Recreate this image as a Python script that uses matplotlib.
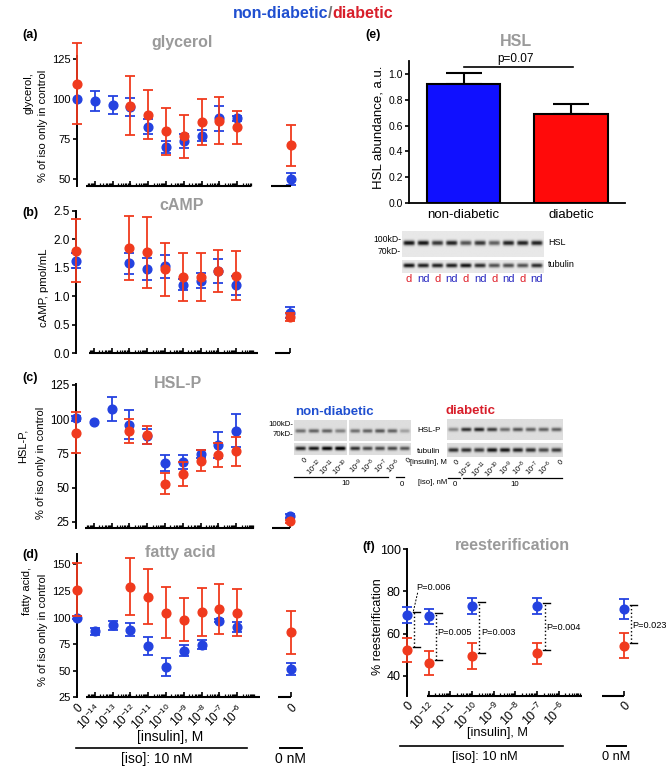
import numpy as np
import matplotlib
matplotlib.use('Agg')
import matplotlib.pyplot as plt
from matplotlib.lines import Line2D

plt.rcParams['font.family'] = ['Liberation Sans', 'DejaVu Sans']
plt.rcParams['mathtext.fontset'] = 'custom'
plt.rcParams['mathtext.rm'] = 'Liberation Sans'
plt.rcParams['mathtext.it'] = 'Liberation Sans:italic'
plt.rcParams['mathtext.bf'] = 'Liberation Sans:bold'
plt.rcParams['mathtext.default'] = 'regular'

NaN = np.nan

# ---------------- data ----------------
insulin_labels = ['0', '10$^{-14}$', '10$^{-13}$', '10$^{-12}$', '10$^{-11}$',
                  '10$^{-10}$', '10$^{-9}$', '10$^{-8}$', '10$^{-7}$', '10$^{-6}$']
noiso_label = '0'

glycerol_nd = [100, 99, 96.2, 95, 82.5, 70, 73.7, 77, 88, 88]
glycerol_nd_err = [0, 6.2, 5.7, 5.7, 4.7, 3.6, 4.2, 3.4, 7.9, 1.5]
glycerol_d = [109.6, NaN, NaN, 95.8, 90.2, 79.7, 76.6, 85.6, 86.4, 82.3]
glycerol_d_err = [25.2, NaN, NaN, 18.4, 15.5, 14.5, 13.5, 14.3, 14.7, 10.5]
glycerol_noiso_nd, glycerol_noiso_nd_err = 50, 3.5
glycerol_noiso_d, glycerol_noiso_d_err = 71, 12.6

camp_nd = [1.62, NaN, NaN, 1.58, 1.47, 1.52, 1.20, 1.27, 1.44, 1.19]
camp_nd_err = [0.13, NaN, NaN, 0.185, 0.195, 0.2, 0.095, 0.13, 0.205, 0.17]
camp_d = [1.80, NaN, NaN, 1.85, 1.77, 1.47, 1.33, 1.34, 1.44, 1.36]
camp_d_err = [0.56, NaN, NaN, 0.565, 0.62, 0.46, 0.42, 0.425, 0.375, 0.43]
camp_noiso_nd, camp_noiso_nd_err = 0.71, 0.1
camp_noiso_d, camp_noiso_d_err = 0.64, 0.07

hslp_nd = [100.7, 98.3, 107.5, 96, 87.4, 68, 69, 74.5, 81.3, 91.7]
hslp_nd_err = [2, 0, 8.5, 10.5, 5.5, 6, 5, 2.7, 9.5, 12.2]
hslp_d = [90.3, NaN, NaN, 91.5, 88.6, 53, 60, 69.7, 74, 76.5]
hslp_d_err = [15, NaN, NaN, 9, 6.8, 7.6, 9, 7.8, 8.7, 10.7]
hslp_noiso_nd, hslp_noiso_nd_err = 29.6, 1.5
hslp_noiso_d, hslp_noiso_d_err = 25.5, 1.0

fa_nd = [100, 87, 92.8, 88.4, 73.4, 53.3, 68.7, 74.3, 96.9, 91.5]
fa_nd_err = [1, 3.5, 4.3, 6, 8.5, 8.2, 5.2, 4.3, 1.5, 4.7]
fa_d = [126, NaN, NaN, 129, 119.7, 104.7, 97.8, 105.6, 108, 104.7]
fa_d_err = [25, NaN, NaN, 26.6, 25.9, 24, 20.2, 22.6, 23.2, 22.5]
fa_noiso_nd, fa_noiso_nd_err = 51.7, 5.7
fa_noiso_d, fa_noiso_d_err = 86.2, 20.4

hsl_groups = ['non-diabetic', 'diabetic']
hsl_abundance = [0.918, 0.692]
hsl_abundance_err = [0.087, 0.077]
hsl_p_text = 'p=0.07'

rees_labels = ['0', '10$^{-12}$', '10$^{-11}$', '10$^{-10}$', '10$^{-9}$',
               '10$^{-8}$', '10$^{-7}$', '10$^{-6}$']
rees_measured = ['0', '10$^{-12}$', '10$^{-10}$', '10$^{-7}$']
rees_nd = [68.7, 68.2, 73.2, 73.0]
rees_nd_err = [3.7, 3.6, 3.7, 3.9]
rees_d = [52.1, 46.1, 49.4, 50.6]
rees_d_err = [5.6, 5.6, 6.2, 5.1]
rees_noiso_nd, rees_noiso_nd_err = 71.6, 4.7
rees_noiso_d, rees_noiso_d_err = 54.2, 5.9
rees_pvals = ['P=0.006', 'P=0.005', 'P=0.003', 'P=0.004', 'P=0.023']

# blot band intensities (0 = none, 1 = black)
blot_hsl_lanes = ['d', 'nd', 'd', 'nd', 'd', 'nd', 'd', 'nd', 'd', 'nd']
blot_hsl = [0.85, 0.85, 0.72, 0.8, 0.6, 0.72, 0.55, 0.8, 0.8, 0.8]
blot_hsl_tub = [0.85, 0.8, 0.8, 0.8, 0.85, 0.75, 0.6, 0.62, 0.6, 0.75]
blot_lane_insulin = ['0', '10$^{-12}$', '10$^{-11}$', '10$^{-10}$', '10$^{-9}$',
                     '10$^{-8}$', '10$^{-7}$', '10$^{-6}$', '0']
blot_nd_hslp = [0.45, 0.5, 0.5, 0.38, 0.45, 0.5, 0.55, 0.5, 0.25]
blot_nd_tub = [0.75, 0.8, 0.9, 0.95, 0.7, 0.6, 0.6, 0.6, 0.55]
blot_d_hslp = [0.35, 0.7, 0.75, 0.65, 0.45, 0.55, 0.5, 0.5, 0.5]
blot_d_tub = [0.7, 0.7, 0.65, 0.8, 0.8, 0.75, 0.7, 0.6, 0.65]

# ---------------- styles ----------------
BLUE = '#2442e0'
RED = '#f03a1e'
GRAY = '#9a9a9a'
TBLUE = '#1f4fd0'
TRED = '#d81e2a'

W, H = 668, 767
fig = plt.figure(figsize=(W / 100, H / 100), dpi=100)


def ax_px(x0, y0, x1, y1):
    return fig.add_axes([x0 / W, 1 - y1 / H, (x1 - x0) / W, (y1 - y0) / H])


def txt(x, y, s, **kw):
    return fig.text(x / W, 1 - y / H, s, **kw)


def hline(x0, x1, y, lw=1.1, **kw):
    fig.add_artist(Line2D([x0 / W, x1 / W], [1 - y / H, 1 - y / H],
                          transform=fig.transFigure, color='k', lw=lw, **kw))


def draw_series(ax, pos, mean, err, color, z):
    pos = np.asarray(pos, float)
    mean = np.asarray(mean, float)
    err = np.asarray(err, float)
    ok = np.isfinite(mean)
    ax.plot(pos[ok], mean[ok], 'o', color=color, ms=6.3, mec=color,
            zorder=z + 1, clip_on=False)
    okerr = ok & np.isfinite(err) & (err > 0)
    if okerr.any():
        c = ax.errorbar(pos[okerr], mean[okerr], yerr=err[okerr], fmt='none',
                        ecolor=color, elinewidth=1.3, capsize=3.6, capthick=1.3,
                        zorder=z)
        for a in c.get_children():
            a.set_clip_on(False)


def dose_axes(rect, xlim, ylim, yticks, yticklabels, seg1, seg2, x0nm,
              decades, tick_fs=8, xlabels=None, xlabel_pos=None, xl_fs=8):
    ax = ax_px(*rect)
    ax.set_xlim(xlim)
    ax.set_ylim(ylim)
    for s in ('top', 'right', 'bottom'):
        ax.spines[s].set_visible(False)
    ax.spines['left'].set_linewidth(1.4)
    ax.set_yticks(yticks, yticklabels)
    ax.tick_params(axis='y', direction='out', length=3, width=1.2,
                   labelsize=tick_fs, pad=1.5)
    majors = [d for d in decades if seg1[0] <= d <= seg1[1]] + [x0nm]
    minors = []
    for n in range(-1, 12):
        for k in range(2, 10):
            v = n + np.log10(k)
            if seg1[0] <= v <= seg1[1]:
                minors.append(v)
    if xlabels is not None:
        ax.set_xticks(xlabel_pos, xlabels)
        ax.tick_params(axis='x', which='major', direction='in', length=3.5,
                       width=1.2, labelsize=xl_fs, pad=3)
        for t in ax.get_xticklabels():
            t.set_rotation(45)
            t.set_ha('right')
            t.set_va('top')
            t.set_rotation_mode('anchor')
    else:
        ax.set_xticks(majors)
        ax.set_xticklabels([])
        ax.tick_params(axis='x', which='major', direction='in', length=3.5,
                       width=1.2)
    ax.set_xticks(minors, minor=True)
    ax.tick_params(axis='x', which='minor', direction='in', length=2, width=0.9)
    for a, b in (seg1, (seg2, x0nm)):
        ax.plot([a, b], [ylim[0], ylim[0]], color='k', lw=1.5, clip_on=False,
                solid_capstyle='butt', zorder=5)
    return ax


dose_pos = list(range(10))
NOISO = 12
decades = list(range(1, 10))

# ---------------- top title ----------------
txt(328, 13, 'non-diabetic', color=TBLUE, fontsize=11.5, fontweight='bold',
    ha='right', va='center')
txt(330, 13, '/', color='#777777', fontsize=11.5, fontweight='bold',
    ha='center', va='center')
txt(332, 13, 'diabetic', color=TRED, fontsize=11.5, fontweight='bold',
    ha='left', va='center')

# ---------------- (a) glycerol ----------------
axa = dose_axes((77, 55.8, 301.3, 186), (0, 12.6), (45.6, 127),
                [50, 75, 100, 125], ['50', '75', '100', '125'],
                (0.5, 9.8), 10.9, NOISO, decades, tick_fs=8)
draw_series(axa, dose_pos + [NOISO], glycerol_nd + [glycerol_noiso_nd],
            glycerol_nd_err + [glycerol_noiso_nd_err], BLUE, 3)
draw_series(axa, dose_pos + [NOISO], glycerol_d + [glycerol_noiso_d],
            glycerol_d_err + [glycerol_noiso_d_err], RED, 5)
txt(182, 42, 'glycerol', color=GRAY, fontsize=11.5, fontweight='bold',
    ha='center', va='center')
txt(22, 35, '(a)', fontsize=9, fontweight='bold', ha='left', va='center')
txt(29, 93, 'glycerol,', fontsize=8, rotation=90, ha='center', va='center')
txt(43, 126, '% of iso only in control', fontsize=8, rotation=90,
    ha='center', va='center')

# ---------------- (b) cAMP ----------------
axb = dose_axes((76, 210.7, 300.3, 353), (0, 12.6), (0, 2.5),
                [0, 0.5, 1.0, 1.5, 2.0, 2.5],
                ['0.0', '0.5', '1.0', '1.5', '2.0', '2.5'],
                (0.73, 10.2), 11.2, NOISO, decades, tick_fs=8.5)
draw_series(axb, dose_pos + [NOISO], camp_nd + [camp_noiso_nd],
            camp_nd_err + [camp_noiso_nd_err], BLUE, 3)
draw_series(axb, dose_pos + [NOISO], camp_d + [camp_noiso_d],
            camp_d_err + [camp_noiso_d_err], RED, 5)
txt(182, 206, 'cAMP', color=GRAY, fontsize=11.5, fontweight='bold',
    ha='center', va='center')
txt(22, 213, '(b)', fontsize=9, fontweight='bold', ha='left', va='center')
txt(44, 288, 'cAMP, pmol/mL', fontsize=8.2, rotation=90, ha='center',
    va='center')

# ---------------- (c) HSL-P ----------------
axc = dose_axes((76, 383.6, 300.3, 528), (0, 12.6), (20.6, 126),
                [25, 50, 75, 100, 125], ['25', '50', '75', '100', '125'],
                (0.5, 10.0), 11.0, NOISO, decades, tick_fs=8.3)
draw_series(axc, dose_pos + [NOISO], hslp_nd + [hslp_noiso_nd],
            hslp_nd_err + [hslp_noiso_nd_err], BLUE, 3)
draw_series(axc, dose_pos + [NOISO], hslp_d + [hslp_noiso_d],
            hslp_d_err + [hslp_noiso_d_err], RED, 5)
txt(178, 383, 'HSL-P', color=GRAY, fontsize=11.5, fontweight='bold',
    ha='center', va='center')
txt(22, 378, '(c)', fontsize=9, fontweight='bold', ha='left', va='center')
txt(23, 446, 'HSL-P,', fontsize=8, rotation=90, ha='center', va='center')
txt(41, 463, '% of iso only in control', fontsize=8, rotation=90,
    ha='center', va='center')

# ---------------- (d) fatty acid ----------------
axd = dose_axes((77, 553.7, 301.3, 697.3), (0, 12.6), (25, 160),
                [25, 50, 75, 100, 125, 150],
                ['25', '50', '75', '100', '125', '150'],
                (0.5, 10.3), 11.3, NOISO, decades, tick_fs=8,
                xlabels=insulin_labels + [noiso_label],
                xlabel_pos=dose_pos + [NOISO], xl_fs=8.5)
draw_series(axd, dose_pos + [NOISO], fa_nd + [fa_noiso_nd],
            fa_nd_err + [fa_noiso_nd_err], BLUE, 3)
draw_series(axd, dose_pos + [NOISO], fa_d + [fa_noiso_d],
            fa_d_err + [fa_noiso_d_err], RED, 5)
txt(180, 552, 'fatty acid', color=GRAY, fontsize=11.5, fontweight='bold',
    ha='center', va='center')
txt(22, 555, '(d)', fontsize=9, fontweight='bold', ha='left', va='center')
txt(27, 591, 'fatty acid,', fontsize=8, rotation=90, ha='center', va='center')
txt(43, 630, '% of iso only in control', fontsize=8, rotation=90,
    ha='center', va='center')
txt(170, 737, '[insulin], M', fontsize=10, ha='center', va='center')
hline(76, 247, 748, lw=1.2)
txt(157, 759, '[iso]: 10 nM', fontsize=10, ha='center', va='center')
hline(280, 302, 748, lw=1.4)
txt(290, 759, '0 nM', fontsize=10, ha='center', va='center')

# ---------------- (e) HSL bar ----------------
axe = ax_px(409, 61, 625, 203)
axe.bar([0, 1], hsl_abundance, width=0.68, color=['#1010ff', '#ff0a0a'],
        edgecolor='black', linewidth=1.5, zorder=2)
axe.errorbar([0, 1], hsl_abundance, yerr=[[0, 0], hsl_abundance_err],
             fmt='none', ecolor='black', elinewidth=1.5, capsize=13,
             capthick=1.5, zorder=1)
axe.set_xlim(-0.507, 1.502)
axe.set_ylim(0, 1.1)
for s in ('top', 'right'):
    axe.spines[s].set_visible(False)
axe.spines['left'].set_linewidth(1.3)
axe.spines['bottom'].set_linewidth(1.3)
axe.set_yticks([0, 0.2, 0.4, 0.6, 0.8, 1.0],
               ['0.0', '0.2', '0.4', '0.6', '0.8', '1.0'])
axe.tick_params(axis='y', direction='out', length=3, width=1.2, labelsize=7.5,
                pad=1.5)
axe.set_xticks([0, 1], hsl_groups)
axe.tick_params(axis='x', length=0, labelsize=9.5, pad=4)
axe.plot([0, 1.02], [1.051, 1.051], color='k', lw=1.2, clip_on=False)
axe.text(0.48, 1.115, hsl_p_text, fontsize=8.5, ha='center', va='center')
txt(516, 42, 'HSL', color=GRAY, fontsize=11.5, fontweight='bold',
    ha='center', va='center')
txt(365, 35, '(e)', fontsize=9, fontweight='bold', ha='left', va='center')
txt(379, 127, 'HSL abundance, a.u.', fontsize=9.5, rotation=90, ha='center',
    va='center')


# ---------------- blots ----------------
def blot(x0, y0, x1, y1, lanes, center=0.5, sig=0.12, bg=0.9, lane_frac=0.8):
    ax = ax_px(x0, y0, x1, y1)
    n = len(lanes)
    nx, ny = n * 30, 40
    xx = np.arange(nx)[None, :] + 0.5
    yy = np.arange(ny)[:, None] + 0.5
    img = np.full((ny, nx), bg)
    for i, v in enumerate(lanes):
        gx = np.exp(-(((xx - (i + 0.5) * 30) / (30 * lane_frac / 2)) ** 6))
        gy = np.exp(-(((yy - center * ny) / (sig * ny)) ** 2))
        img = img - v * gx * gy
    ax.imshow(np.clip(img, 0, 1), cmap='gray', vmin=0, vmax=1, aspect='auto',
              interpolation='bilinear')
    ax.set_axis_off()
    return ax


# (e) HSL blot
blot(402, 231, 544, 257, blot_hsl, center=0.46, sig=0.09, bg=0.91)
blot(402, 260, 544, 273, blot_hsl_tub, center=0.42, sig=0.16, bg=0.91)
txt(401, 239, '100kD-', fontsize=6.2, ha='right', va='center')
txt(401, 252, '70kD-', fontsize=6.2, ha='right', va='center')
txt(548, 243, 'HSL', fontsize=6.5, ha='left', va='center')
txt(548, 265, 'tubulin', fontsize=6.5, ha='left', va='center')
lw_e = (544 - 402) / len(blot_hsl_lanes)
for i, lab in enumerate(blot_hsl_lanes):
    txt(402 + lw_e * (i + 0.5), 279, lab, fontsize=8,
        color=('#e0202a' if lab == 'd' else '#2828c0'), ha='center',
        va='center')

# (c) non-diabetic blot
txt(295, 412, 'non-diabetic', color=TBLUE, fontsize=9.5, fontweight='bold',
    ha='left', va='center')
blot(294, 420, 347, 441, blot_nd_hslp[:4], center=0.52, sig=0.09, bg=0.87)
blot(349, 420, 411, 441, blot_nd_hslp[4:], center=0.52, sig=0.09, bg=0.87)
blot(294, 443, 347, 455, blot_nd_tub[:4], center=0.45, sig=0.16, bg=0.87)
blot(349, 443, 411, 455, blot_nd_tub[4:], center=0.45, sig=0.16, bg=0.87)
txt(293, 425, '100kD-', fontsize=5.6, ha='right', va='center')
txt(293, 434, '70kD-', fontsize=5.6, ha='right', va='center')
txt(417, 431, 'HSL-P', fontsize=5.8, ha='left', va='center')
txt(417, 452, 'tubulin', fontsize=5.8, ha='left', va='center')
txt(410, 463, '[insulin], M', fontsize=5.6, ha='left', va='center')
txt(418, 482, '[iso], nM', fontsize=5.6, ha='left', va='center')
nd_centers = [294 + 53 / 4 * (i + 0.5) for i in range(4)] + \
             [349 + 62 / 5 * (i + 0.5) for i in range(5)]
for xc, lab in zip(nd_centers, blot_lane_insulin):
    txt(xc + 3, 457, lab, fontsize=5.2, rotation=45, ha='right', va='top',
        rotation_mode='anchor')
hline(294, 388, 477, lw=0.9)
txt(346, 483, '10', fontsize=5.6, ha='center', va='center')
hline(396, 404, 477, lw=0.9)
txt(402, 484, '0', fontsize=5.6, ha='center', va='center')

# (c) diabetic blot
txt(445, 411, 'diabetic', color=TRED, fontsize=9.5, fontweight='bold',
    ha='left', va='center')
blot(447, 419, 563, 440, blot_d_hslp, center=0.5, sig=0.09, bg=0.87)
blot(447, 443, 563, 457, blot_d_tub, center=0.5, sig=0.15, bg=0.87)
d_w = (563 - 447) / len(blot_d_hslp)
for i, lab in enumerate(blot_lane_insulin):
    txt(447 + d_w * (i + 0.5) + 3, 459, lab, fontsize=5.2, rotation=45,
        ha='right', va='top', rotation_mode='anchor')
hline(448, 460, 478, lw=0.9)
txt(455, 484, '0', fontsize=5.6, ha='center', va='center')
hline(463, 562, 478, lw=0.9)
txt(515, 484, '10', fontsize=5.6, ha='center', va='center')

# ---------------- (f) reesterification ----------------
rees_all_pos = list(range(8))
rees_pos = [rees_all_pos[rees_labels.index(l)] for l in rees_measured]
REES_NOISO = 10
axf = dose_axes((407, 549, 637, 696), (0, 10.6), (30.5, 100),
                [40, 60, 80, 100], ['40', '60', '80', '100'],
                (0.91, 8.05), 8.97, REES_NOISO, list(range(1, 8)), tick_fs=9,
                xlabels=rees_labels + [noiso_label],
                xlabel_pos=rees_all_pos + [REES_NOISO], xl_fs=9)
draw_series(axf, rees_pos + [REES_NOISO], rees_nd + [rees_noiso_nd],
            rees_nd_err + [rees_noiso_nd_err], BLUE, 3)
draw_series(axf, rees_pos + [REES_NOISO], rees_d + [rees_noiso_d],
            rees_d_err + [rees_noiso_d_err], RED, 5)
p_text_y = [81.6, 60.3, 60.3, 62.7, 63.6]
for k, (xp, top, bot) in enumerate(zip(rees_pos + [REES_NOISO],
                                       rees_nd + [rees_noiso_nd],
                                       rees_d + [rees_noiso_d])):
    xd = xp + 0.34
    t, b = top + 1.7, bot + 1.5
    axf.plot([xd, xd], [b, t], color='k', lw=1.0, ls=':', clip_on=False)
    for yy in (t, b):
        axf.plot([xd - 0.05, xd + 0.27], [yy, yy], color='k', lw=1.0,
                 clip_on=False)
    if k == 0:
        axf.plot([xd + 0.15, xd - 0.05], [79.3, t], color='k', lw=0.7,
                 ls=(0, (2, 1.5)))
        axf.text(xd + 0.1, p_text_y[k], rees_pvals[k], fontsize=6.6,
                 ha='left', va='center')
    else:
        axf.text(xd + 0.06, p_text_y[k], rees_pvals[k], fontsize=6.6,
                 ha='left', va='center', clip_on=False)
txt(512, 545, 'reesterification', color=GRAY, fontsize=11.5,
    fontweight='bold', ha='center', va='center')
txt(362, 547, '(f)', fontsize=9, fontweight='bold', ha='left', va='center')
txt(378, 627, '% reesterification', fontsize=9, rotation=90, ha='center',
    va='center')
txt(497, 733, '[insulin], M', fontsize=9.2, ha='center', va='center')
hline(400, 563, 746, lw=1.2)
txt(485, 757, '[iso]: 10 nM', fontsize=9.2, ha='center', va='center')
hline(607, 626, 746, lw=1.4)
txt(616, 757, '0 nM', fontsize=9.2, ha='center', va='center')

fig.savefig('out.png', dpi=100)
